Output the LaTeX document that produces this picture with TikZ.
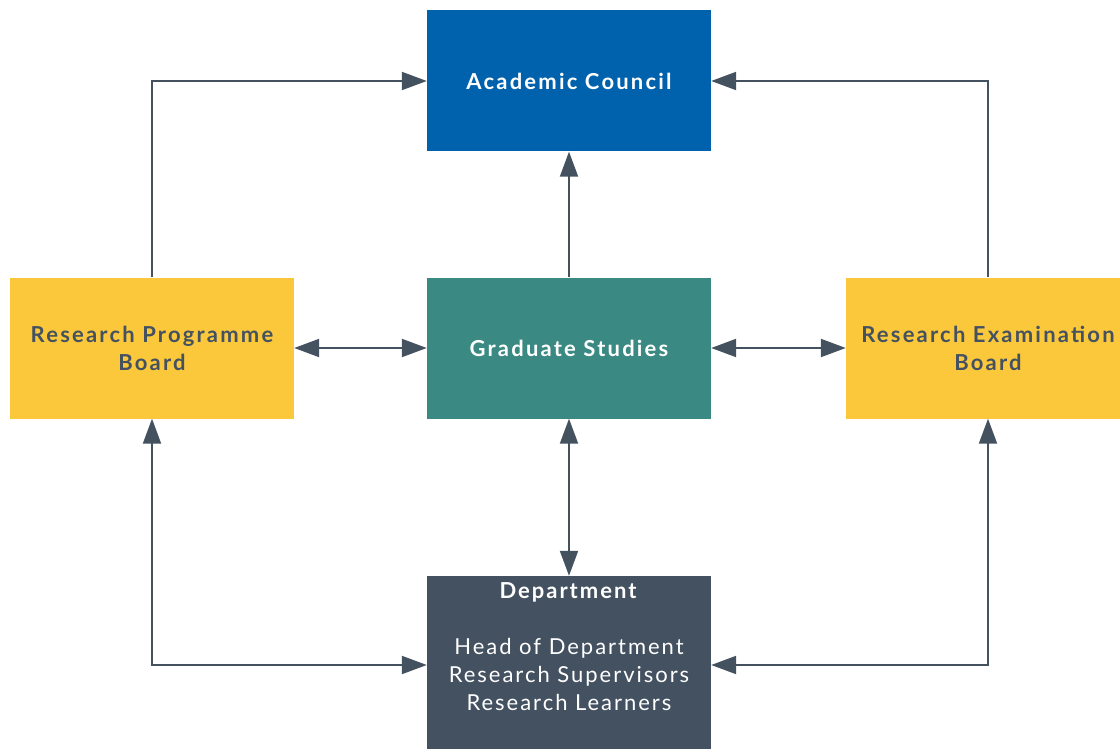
\documentclass[tikz,border=0pt]{standalone}
\usepackage{fontspec}
\setmainfont{Lato}
\usetikzlibrary{arrows.meta}

\definecolor{councilblue}{HTML}{0061AD}
\definecolor{gradteal}{HTML}{3A8983}
\definecolor{boardyellow}{HTML}{FCC83B}
\definecolor{deptslate}{HTML}{435161}
\definecolor{linkgrey}{HTML}{44525F}

\tikzset{
  box/.style={rectangle, minimum width=284pt, minimum height=141pt, align=center,
    inner sep=0pt, font=\fontsize{22}{28}\selectfont\bfseries\addfontfeatures{LetterSpace=10}},
  board/.style={box, fill=boardyellow, text=deptslate},
  link/.style={draw=linkgrey, line width=2pt, -{Triangle[length=25pt,width=18pt]}},
  dbl/.style={draw=linkgrey, line width=2pt, {Triangle[length=25pt,width=18pt]}-{Triangle[length=25pt,width=18pt]}}
}

\begin{document}
\begin{tikzpicture}[x=1pt, y=-1pt]
        \useasboundingbox[fill=white] (0,0) rectangle (1120,749);

        \node[box, fill=councilblue, text=white] (council) at (569,81) {Academic Council};
        \node[box, fill=gradteal, text=white] (grad) at (569,348) {Graduate Studies};
        \node[board] (rpb) at (152,348) {Research Programme\\Board};
        \node[board] (reb) at (988,348) {Research Examination\\Board};
        \node[box, fill=deptslate, minimum height=178pt] (dept) at (569,665) {};
        \node[text=white, anchor=north, align=center, font=\fontsize{22}{28}\selectfont\addfontfeatures{LetterSpace=9}]
          (deptText) at (569,579) {\textbf{Department}\\[28pt]Head of Department\\Research Supervisors\\Research Learners};

        \draw[link] (rpb.north) |- (council.west);
        \draw[link] (reb.north) |- (council.east);
        \draw[link] (grad.north) -- (council.south);
        \draw[dbl] (rpb.east) -- (grad.west);
        \draw[dbl] (grad.east) -- (reb.west);
        \draw[dbl] (grad.south) -- (dept.north);
        \draw[dbl] (dept.west) -| (rpb.south);
        \draw[dbl] (dept.east) -| (reb.south);
      \end{tikzpicture}
\end{document}
